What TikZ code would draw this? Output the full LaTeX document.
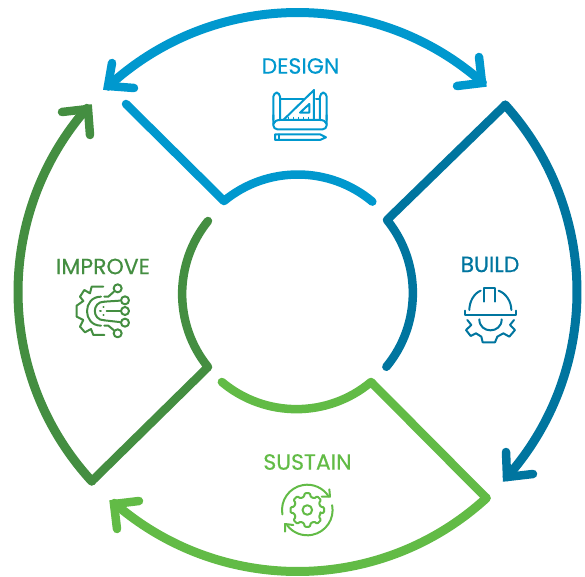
\documentclass[tikz,border=0pt]{standalone}
\usepackage{fontspec}
\setmainfont{Poppins}[FakeBold=0.5]
\definecolor{cdesign}{HTML}{0098CE}
\definecolor{cbuild}{HTML}{00759F}
\definecolor{csustain}{HTML}{62BB46}
\definecolor{cimprove}{HTML}{448E41}
\tikzset{
  band/.style={line width=8.5pt,line cap=round,line join=round},
  outerband/.style={line width=9pt,line cap=round,line join=round},
  head/.style={line width=8.5pt,line cap=round,line join=miter},
  icon/.style={line width=2pt,line join=round,line cap=round},
  lab/.style={font=\fontsize{22}{24}\selectfont,inner sep=0pt,anchor=center},
  zoomed/.style={x=0.3333pt,y=-0.3333pt}
}
\begin{document}
\begin{tikzpicture}[x=1pt,y=1pt]
\useasboundingbox (0,0) rectangle (585,576);
\coordinate (c) at (297.5,284);
% DESIGN
\draw[outerband,cdesign] ([shift={(c)}]132.6:279.5) arc[start angle=132.6,end angle=48.6,radius=279.5];
\draw[head,cdesign] (112,513) -- (108,490) -- (134,488);
\draw[head,cdesign] (479,519) -- (482,493) -- (457,490);
\draw[band,cdesign] (126,472) -- (224,375) arc[start angle=129.5,end angle=50,radius=116];
% BUILD
\draw[outerband,cbuild] ([shift={(c)}]42:279.5) arc[start angle=42,end angle=-41.4,radius=279.5];
\draw[head,cbuild] (506,124) -- (507,99) -- (533,102);
\draw[band,cbuild] ([shift={(c)}]42:279.5) -- (387,356) arc[start angle=39,end angle=-39.5,radius=116];
% SUSTAIN
\draw[outerband,csustain] ([shift={(c)}]-47.5:279.5) arc[start angle=-47.5,end angle=-130.9,radius=279.5];
\draw[head,csustain] (139,75) -- (114,72) -- (117,47);
\draw[band,csustain] ([shift={(c)}]-47.5:279.5) -- (371,194) arc[start angle=-50,end angle=-130,radius=116];
% IMPROVE
\draw[outerband,cimprove] ([shift={(c)}]222.6:279.5) arc[start angle=222.6,end angle=138.9,radius=279.5];
\draw[head,cimprove] (62,464) -- (88,467) -- (90,441);
\draw[band,cimprove] ([shift={(c)}]222.6:279.5) -- (208,209) arc[start angle=219,end angle=141,radius=116];
% Labels
\node[lab,text=cdesign] (tdesign) at (300.5,510) {DESIGN};
\node[lab,text=cbuild] (tbuild) at (490,311.5) {BUILD};
\node[lab,text=csustain] (tsustain) at (307.5,114) {SUSTAIN};
\node[lab,text=cimprove] (timprove) at (103,309.5) {IMPROVE};
% design icon
\begin{scope}[shift={(240,536)},zoomed,icon,cdesign]
\draw[rounded corners=4pt] (100,240) -- (100,158) -- (120,158) -- (120,240);
\draw[rounded corners=4pt] (240,240) -- (240,158) -- (260,158) -- (260,240);
\draw[rounded corners=4pt] (100,225) -- (100,268) -- (260,268) -- (260,225);
\draw (100,252) .. controls (102,244) and (110,240) .. (120,240) -- (240,240) .. controls (250,240) and (258,244) .. (260,252);
\draw (120,178) -- (190,178);
\draw (228,178) -- (240,178);
\draw (130,240) -- (222,150) -- (222,240);
\draw (180,218) -- (208,192) -- (208,218) -- cycle;
\foreach \t in {145,160,175,190,205} \draw[line width=1pt] (\t,240) -- (\t,232);
\draw (105,283) -- (240,283) -- (258,292) -- (240,300) -- (105,300) -- cycle;
\draw (118,283) -- (118,300);
\end{scope}
% build icon
\begin{scope}[shift={(440,336)},zoomed,icon,cbuild]
\draw (75,212) -- (75,226) -- (228,226) -- (228,212);
\draw (88,210) .. controls (88,185) and (102,160) .. (122,152);
\draw (133,185) -- (133,143) -- (165,143) -- (165,185);
\draw (176,152) .. controls (198,160) and (214,185) .. (214,210);
\draw (118,238) .. controls (118,282) and (185,282) .. (185,238);
\draw (82,240) -- (94,255) -- (78,270) -- (92,288) -- (108,280) -- (124,290) -- (128,307) -- (165,307) -- (172,290) -- (190,280) -- (208,290) -- (225,270) -- (210,255) -- (222,240);
\end{scope}
% sustain icon
\coordinate (g) at (307.3,66);
\begin{scope}[icon,csustain]
\draw ([shift={(g)}]190:25.3) arc[start angle=190,end angle=32,radius=25.3];
\draw ([shift={(g)}]11:25.3) arc[start angle=11,end angle=-143,radius=25.3];
\draw[rounded corners=1pt] ([shift={(g)}]-14:13.6) \foreach \a in {0,45,...,315} { -- ([shift={(g)}]\a-14:13.6) -- ([shift={(g)}]\a-9:17) -- ([shift={(g)}]\a+9:17) -- ([shift={(g)}]\a+14:13.6) } -- cycle;
\draw (g) circle[radius=4.8];
\end{scope}
\begin{scope}[shift={(250,136)},zoomed,icon,csustain]
\draw (238,148) -- (240,170) -- (215,170);
\draw (105,275) -- (105,252) -- (130,255);
\end{scope}
% improve icon
\begin{scope}[shift={(45,331)},zoomed,icon,cimprove]
\draw (175,125) -- (140,125) -- (135,145) -- (118,135) -- (105,155) -- (115,168) -- (95,182) -- (95,215) -- (115,225) -- (105,245) -- (120,262) -- (138,252) -- (145,270) -- (178,270);
\draw (168,155) .. controls (112,155) and (112,242) .. (168,242);
\draw (178,170) .. controls (140,170) and (140,226) .. (178,226);
\foreach \cx/\cy/\nm in {218/130/a,240/166/b,240/198/d,240/233/e,218/265/f}
  \node[draw,circle,cimprove,line width=2pt,minimum size=8pt,inner sep=0pt] (\nm) at (\cx,\cy) {};
\draw (178,155) -- (190,155) -- (a);
\draw (178,170) -- (b);
\draw (185,198) -- (d);
\draw (178,226) -- (e);
\draw (178,242) -- (190,242) -- (f);
\draw (165,198) -- (168,198);
\draw (175,185) -- (176,185);
\draw (175,210) -- (176,210);
\end{scope}
\end{tikzpicture}
\end{document}
